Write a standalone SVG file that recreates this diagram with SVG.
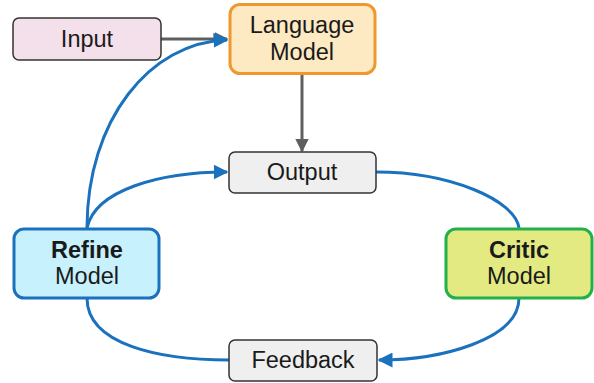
<svg xmlns="http://www.w3.org/2000/svg" width="594" height="383" viewBox="0 0 594 383">
<defs>
<style>
text{font-family:"Liberation Sans",Arial,sans-serif;font-size:23.5px;fill:#1a1a1a;text-anchor:middle}
.b{font-weight:bold}
.plain{stroke:#333;stroke-width:1.5}
.blue{fill:none;stroke:#1a72bf;stroke-width:3}
.gray{fill:none;stroke:#5f5f5f;stroke-width:3}
</style>
<marker id="ab" viewBox="0 0 10 10" refX="9" refY="5" markerWidth="5" markerHeight="5" markerUnits="strokeWidth" orient="auto"><path d="M0,0L10,5L0,10z" fill="#1a72bf"/></marker>
<marker id="ag" viewBox="0 0 10 10" refX="9" refY="5" markerWidth="4.5" markerHeight="4.5" markerUnits="strokeWidth" orient="auto"><path d="M0,0L10,5L0,10z" fill="#5f5f5f"/></marker>
</defs>
<g id="connectors">
<path class="gray" d="M161,39H227" marker-end="url(#ag)"/>
<path class="gray" d="M302,74V151" marker-end="url(#ag)"/>
<path class="blue" d="M87,228C87,120 150,42 227,40" marker-end="url(#ab)"/>
<path class="blue" d="M87,228C95,190 160,172 227,172" marker-end="url(#ab)"/>
<path class="blue" d="M376,172C450,172 515,200 519,228"/>
<path class="blue" d="M519,298C519,340 440,360 379,360" marker-end="url(#ab)"/>
<path class="blue" d="M229,360C160,360 87,345 87,298"/>
</g>
<g id="input"><rect class="plain" x="13" y="18" width="148" height="42" rx="6" fill="#f3e0ea"/><text x="87" y="47">Input</text></g>
<g id="language-model"><rect x="230" y="4.5" width="145" height="69" rx="10" fill="#fde9c2" stroke="#f0982e" stroke-width="3"/><text x="302" y="33">Language</text><text x="302" y="60">Model</text></g>
<g id="output"><rect class="plain" x="229" y="152" width="147" height="41" rx="6" fill="#efefef"/><text x="302" y="180">Output</text></g>
<g id="refine"><rect x="14" y="229" width="145" height="69" rx="10" fill="#c6f1fd" stroke="#1a72bf" stroke-width="3"/><text class="b" x="87" y="258">Refine</text><text x="87" y="284">Model</text></g>
<g id="critic"><rect x="446" y="229" width="146" height="69" rx="10" fill="#e3ea82" stroke="#22b04b" stroke-width="3"/><text class="b" x="519" y="258">Critic</text><text x="519" y="284">Model</text></g>
<g id="feedback"><rect class="plain" x="229" y="340" width="148" height="41" rx="6" fill="#efefef"/><text x="303" y="368">Feedback</text></g>
</svg>
